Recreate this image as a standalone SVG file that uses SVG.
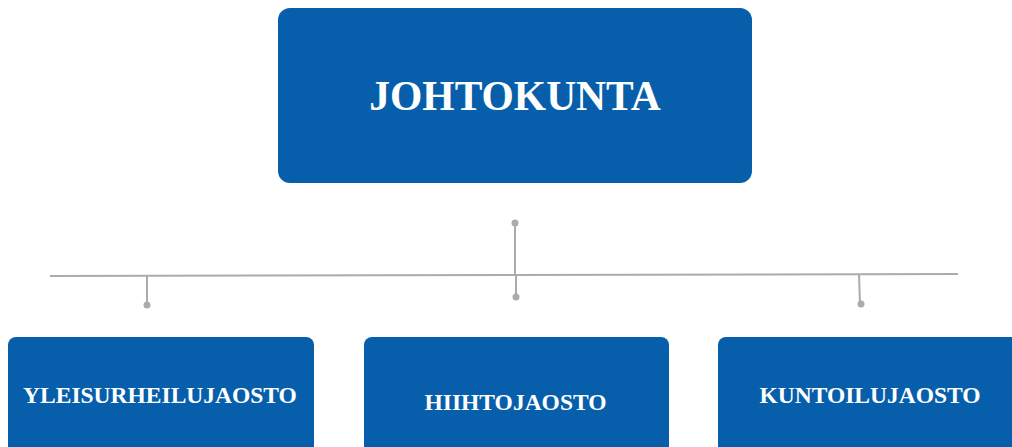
<svg xmlns="http://www.w3.org/2000/svg" width="1012" height="447" viewBox="0 0 1012 447">
<style>
.box{fill:#075FAB;}
.lbl{fill:#ffffff;font-family:"Liberation Serif","Times New Roman",serif;font-weight:bold;text-anchor:middle;}
.ln{stroke:#ababab;stroke-width:2;fill:none;}
.dot{fill:#ababab;}
</style>
<rect width="1012" height="447" fill="#ffffff"/>
<g id="connectors">
<line class="ln" x1="50" y1="276" x2="958" y2="274"/>
<line class="ln" x1="515" y1="223" x2="515" y2="275"/>
<circle class="dot" cx="515" cy="223" r="3.5"/>
<line class="ln" x1="516" y1="276" x2="516" y2="297"/>
<circle class="dot" cx="516" cy="297" r="3.5"/>
<line class="ln" x1="147" y1="275" x2="147" y2="305"/>
<circle class="dot" cx="147" cy="305" r="3.5"/>
<line class="ln" x1="859" y1="274" x2="860" y2="304"/>
<circle class="dot" cx="861" cy="304" r="3.5"/>
</g>
<g id="johtokunta">
<rect class="box" x="278" y="8" width="474" height="175" rx="12"/>
<text class="lbl" x="515" y="110" font-size="41.5">JOHTOKUNTA</text>
</g>
<g id="yleisurheilujaosto">
<rect class="box" x="8" y="337" width="306" height="130" rx="8"/>
<text class="lbl" x="160" y="403" font-size="23.5">YLEISURHEILUJAOSTO</text>
</g>
<g id="hiihtojaosto">
<rect class="box" x="364" y="337" width="305" height="130" rx="8"/>
<text class="lbl" x="515.5" y="410" font-size="23.5">HIIHTOJAOSTO</text>
</g>
<g id="kuntoilujaosto">
<rect class="box" x="718" y="337" width="310" height="130" rx="8"/>
<text class="lbl" x="870" y="403" font-size="23.5">KUNTOILUJAOSTO</text>
</g>
</svg>
